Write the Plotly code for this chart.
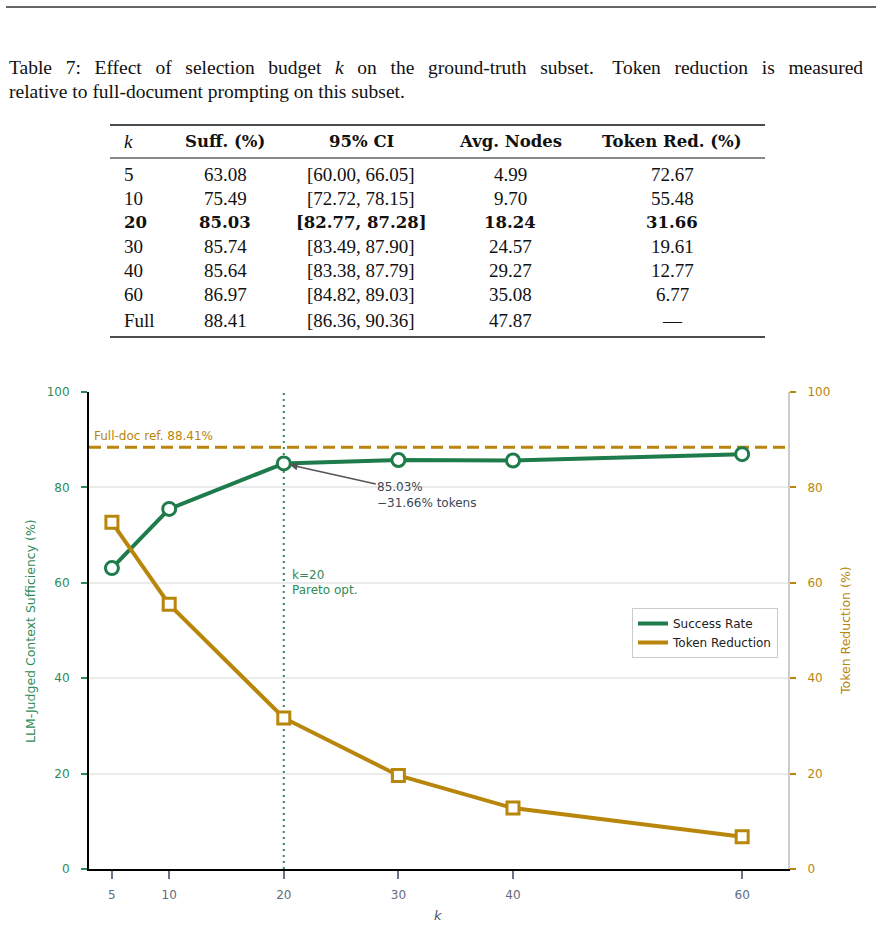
import plotly.graph_objects as go

# ---------------- data ----------------
k_vals = [5, 10, 20, 30, 40, 60]
suff = [63.08, 75.49, 85.03, 85.74, 85.64, 86.97]
token_red = [72.67, 55.48, 31.66, 19.61, 12.77, 6.77]
full_doc_ref = 88.41
pareto_k = 20

table_k = ["5", "10", "20", "30", "40", "60", "Full"]
table_suff = ["63.08", "75.49", "85.03", "85.74", "85.64", "86.97", "88.41"]
table_ci = ["[60.00, 66.05]", "[72.72, 78.15]", "[82.77, 87.28]", "[83.49, 87.90]",
            "[83.38, 87.79]", "[84.82, 89.03]", "[86.36, 90.36]"]
table_nodes = ["4.99", "9.70", "18.24", "24.57", "29.27", "35.08", "47.87"]
table_tok = ["72.67", "55.48", "31.66", "19.61", "12.77", "6.77", "—"]
table_headers = ["k", "Suff. (%)", "95% CI", "Avg. Nodes", "Token Red. (%)"]
bold_row = 2

caption1_words = ["Table", "7:", "Effect", "of", "selection", "budget", "<i>k</i>", "on", "the",
                  "ground-truth", "subset.\u00a0", "Token", "reduction", "is", "measured"]
caption2 = "relative to full-document prompting on this subset."

# ---------------- style ----------------
GREEN = "#1e7b4c"
GREEN_TXT = "#2e8b57"
GOLD = "#b8860b"
W, H = 876, 927
L, R, T, B = 89, 788, 392, 869
PW, PH = R - L, B - T


def px(X):
    return (X - L) / PW


def py(Y):
    return (B - Y) / PH


SERIF = "Liberation Serif, DejaVu Serif, serif"
SERIF_B = "DejaVu Serif, serif"
SANS = "DejaVu Sans, sans-serif"

fig = go.Figure()

fig.add_trace(go.Scatter(
    x=k_vals, y=suff, mode="lines+markers", name="Success Rate", showlegend=False,
    line=dict(color=GREEN, width=4),
    marker=dict(symbol="circle", size=13, color="white", line=dict(color=GREEN, width=3)),
    yaxis="y"))
fig.add_trace(go.Scatter(
    x=k_vals, y=token_red, mode="lines+markers", name="Token Reduction", showlegend=False,
    line=dict(color=GOLD, width=4),
    marker=dict(symbol="square", size=12, color="white", line=dict(color=GOLD, width=3)),
    yaxis="y2"))
# legend entries (lines only)
fig.add_trace(go.Scatter(x=[None], y=[None], mode="lines", name="Success Rate",
                         line=dict(color=GREEN, width=4), yaxis="y"))
fig.add_trace(go.Scatter(x=[None], y=[None], mode="lines", name="Token Reduction",
                         line=dict(color=GOLD, width=4), yaxis="y2"))

shapes = []
shapes.append(dict(type="line", xref="paper", yref="y", x0=0, x1=1, y0=full_doc_ref, y1=full_doc_ref,
                   line=dict(color=GOLD, width=3, dash="12px,6px"), layer="between"))
shapes.append(dict(type="line", xref="x", yref="paper", x0=pareto_k, x1=pareto_k, y0=0, y1=1,
                   line=dict(color=GREEN_TXT, width=2, dash="2px,4px"), layer="between"))
shapes.append(dict(type="line", xref="paper", yref="paper", x0=px(6), x1=px(876), y0=py(7), y1=py(7),
                   line=dict(color="#333333", width=1.5)))
for yy, wdt in [(125, 1.6), (158, 1.0), (337, 1.6)]:
    shapes.append(dict(type="line", xref="paper", yref="paper", x0=px(110), x1=px(765), y0=py(yy), y1=py(yy),
                       line=dict(color="#111111", width=wdt)))

ann = []


def text(X, Y, s, size, color, font=SANS, xanchor="left", yanchor="middle", angle=0, align="left"):
    ann.append(dict(xref="paper", yref="paper", x=px(X), y=py(Y), text=s, showarrow=False,
                    xanchor=xanchor, yanchor=yanchor, textangle=angle, align=align,
                    font=dict(family=font, size=size, color=color)))


# caption (first line justified by padding the word gaps)
gap = " \u00a0\u2009"
text(7, 67, gap.join(caption1_words), 19.5, "#111111", font=SERIF)
text(7, 91, caption2, 19.5, "#111111", font=SERIF)

# table
col_x = [122, 225, 361, 510, 672]
col_anchor = ["left", "center", "center", "center", "center"]
for j, h in enumerate(table_headers):
    if j == 0:
        text(col_x[j], 142, "<i>" + h + "</i>", 19, "#111111", font=SERIF, xanchor=col_anchor[j])
    else:
        text(col_x[j], 142, "<b>" + h + "</b>", 16.5, "#111111", font=SERIF_B, xanchor=col_anchor[j])
row_y = [175, 199, 223, 247, 271, 295, 320]
cols = [table_k, table_suff, table_ci, table_nodes, table_tok]
for i, yy in enumerate(row_y):
    for j, col in enumerate(cols):
        s = col[i]
        if i == bold_row:
            text(col_x[j], yy, "<b>" + s + "</b>", 16.5, "#111111", font=SERIF_B, xanchor=col_anchor[j])
        else:
            text(col_x[j], yy, s, 19, "#111111", font=SERIF, xanchor=col_anchor[j])

# chart labels
text(92, 436, "Full-doc ref. 88.41%", 12, GOLD)
text(290, 575, "k=20", 12, GREEN_TXT)
text(290, 590, "Pareto opt.", 12, GREEN_TXT)
text(30, 631, "LLM-Judged Context Sufficiency (%)", 12.5, GREEN_TXT, xanchor="center", angle=-90)
text(845, 631, "Token Reduction (%)", 12.5, GOLD, xanchor="center", angle=-90)
text(438, 915, "<i>k</i>", 13, "#4a5568", xanchor="center")

ann.append(dict(xref="x", yref="y", x=pareto_k, y=suff[k_vals.index(pareto_k)],
                text="85.03%<br>−31.66% tokens", showarrow=True, arrowhead=2, arrowsize=1,
                arrowwidth=1.6, arrowcolor="#555555", ax=143, ay=32, standoff=6,
                align="left", font=dict(family=SANS, size=12, color="#3a4656")))

fig.update_layout(
    width=W, height=H,
    margin=dict(l=L, r=W - R, t=T, b=H - B, pad=0),
    paper_bgcolor="white", plot_bgcolor="white",
    font=dict(family=SANS, size=12),
    shapes=shapes, annotations=ann,
    xaxis=dict(range=[3, 64], tickvals=k_vals, ticks="outside", ticklen=8, tickwidth=1.5,
               tickcolor="#6b7585", tickfont=dict(family=SANS, color="#5f6b7b", size=12),
               ticklabelstandoff=6,
               showline=True, linecolor="black", linewidth=2, showgrid=False, zeroline=False),
    yaxis=dict(range=[0, 100], tickvals=[0, 20, 40, 60, 80, 100], ticks="outside", ticklen=6, tickwidth=2,
               tickcolor=GREEN_TXT, tickfont=dict(family=SANS, color=GREEN_TXT, size=12),
               ticklabelstandoff=9,
               showline=True, linecolor="black", linewidth=2, showgrid=True,
               gridcolor="#ebebeb", gridwidth=1.5, zeroline=False),
    yaxis2=dict(range=[0, 100], tickvals=[0, 20, 40, 60, 80, 100], overlaying="y", side="right",
                ticks="outside", ticklen=6, tickwidth=2, tickcolor=GOLD,
                tickfont=dict(family=SANS, color=GOLD, size=12), ticklabelstandoff=9,
                showline=True, linecolor="#cccccc", linewidth=2,
                showgrid=False, zeroline=False),
    legend=dict(x=px(632), y=py(608), xanchor="left", yanchor="top", bgcolor="white",
                bordercolor="#cccccc", borderwidth=1, font=dict(family=SANS, size=12, color="#222222"),
                tracegroupgap=0),
)

fig.write_html("out.html")
